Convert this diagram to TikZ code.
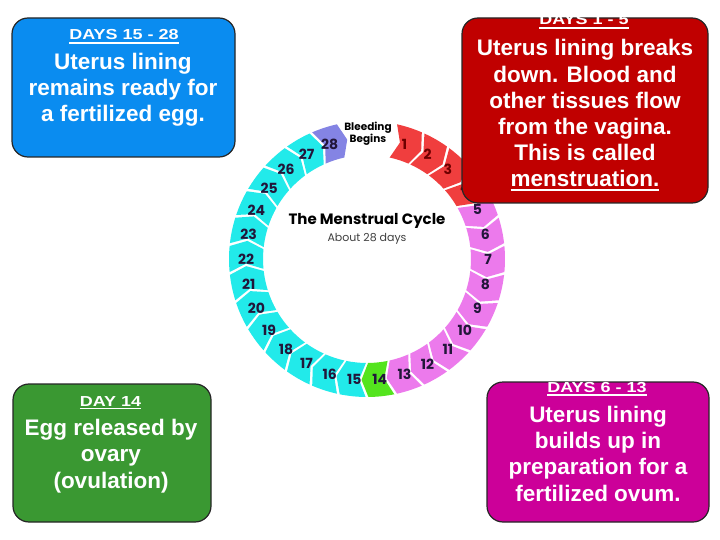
\documentclass[tikz,border=0pt]{standalone}
\usepackage{fontspec}
\usepackage{tikz}
\usetikzlibrary{positioning,calc}
\setmainfont{Liberation Sans}
\newfontfamily\headfont{Liberation Sans}[FakeStretch=1.24]
\newfontfamily\ringfont{Poppins}
\definecolor{boxblue}{RGB}{10,140,240}
\definecolor{boxred}{RGB}{192,0,0}
\definecolor{boxgreen}{RGB}{58,152,50}
\definecolor{boxmagenta}{RGB}{204,0,153}
\definecolor{segred}{RGB}{240,62,62}
\definecolor{segviolet}{RGB}{236,122,236}
\definecolor{seggreen}{RGB}{84,228,30}
\definecolor{segcyan}{RGB}{34,234,234}
\definecolor{seglav}{RGB}{132,132,228}
\definecolor{numdark}{RGB}{34,22,58}
\definecolor{numred}{RGB}{110,0,0}
\newcommand{\ulbox}[1]{\vtop{\hbox{#1}\kern1.8pt\hrule height1.6pt}}
\tikzset{
  phasebox/.style={draw=black!85, line width=1.2pt, rounded corners=16pt, inner sep=0pt},
  phasehead/.style={anchor=base, text=white, inner sep=0pt, font=\headfont\bfseries\fontsize{14.5}{17}\selectfont},
  phasetext/.style={anchor=base, text=white, inner sep=0pt, align=center, font=\bfseries\fontsize{22.5}{26.2}\selectfont},
  daynum/.style={inner sep=0pt, font=\ringfont\bfseries\fontsize{14}{16}\selectfont},
  cycletitle/.style={anchor=base, inner sep=0pt, font=\ringfont\bfseries\fontsize{15}{17}\selectfont},
  cyclesub/.style={anchor=base, inner sep=0pt, text=black!75, font=\ringfont\fontsize{11}{12}\selectfont},
  bleedtext/.style={anchor=base, inner sep=0pt, align=center, font=\ringfont\bfseries\fontsize{10.5}{10.5}\selectfont}
}
\begin{document}
\begin{tikzpicture}[x=1pt, y=-1pt]
  \fill[white] (0,0) rectangle (720,540);
  \useasboundingbox (0,0) rectangle (720,540);
  \begin{scope}[shift={(367,259)}]
    \foreach \d in {1,...,28}{
      \pgfmathsetmacro\a{-72+12*(\d-1)}
      \ifnum\d<5 \def\segcol{segred}\else\ifnum\d<14 \def\segcol{segviolet}\else\ifnum\d=14 \def\segcol{seggreen}\else\ifnum\d<28 \def\segcol{segcyan}\else\def\segcol{seglav}\fi\fi\fi\fi
      \ifnum\d<5 \def\numcol{numred}\else\def\numcol{numdark}\fi
      \fill[\segcol] (\a-5.4:138) arc[start angle=\a-5.4, end angle=\a+5.4, radius=138]
        -- (\a+8.6:121) -- (\a+5.4:104) arc[start angle=\a+5.4, end angle=\a-5.4, radius=104]
        -- (\a-2.2:121) -- cycle;
      \node[daynum, text=\numcol] (day\d) at (\a:121) {\d};
    }
    \node[cycletitle] (title) at (0,-34) {The Menstrual Cycle};
    \node[cyclesub] (about) at (0,-17.5) {About 28 days};
    \node[bleedtext] (bleed) at (1,-116) {Bleeding\\Begins};
  \end{scope}
  \node[phasebox, fill=boxblue, minimum width=223pt, minimum height=139pt] (bluebox) at (123.5,87.5) {};
  \node[phasehead] (bluehead) at (124,40) {\ulbox{DAYS 15 - 28}};
  \node[phasetext] (bluetext) at (123,122) {Uterus lining\\remains ready for\\a fertilized egg.};
  \node[phasebox, fill=boxred, minimum width=246pt, minimum height=185pt] (redbox) at (585,110.5) {};
  \node[phasehead] (redhead) at (584,25) {\ulbox{DAYS 1 - 5}};
  \node[phasetext] (redtext) at (585,187) {Uterus lining breaks\\down. Blood and\\other tissues flow\\from the vagina.\\This is called\\\ulbox{menstruation.}};
  \node[phasebox, fill=boxgreen, minimum width=198pt, minimum height=138pt] (greenbox) at (112,453) {};
  \node[phasehead] (greenhead) at (110.5,406) {\ulbox{DAY 14}};
  \node[phasetext] (greentext) at (111,488) {Egg released by\\ovary\\(ovulation)};
  \node[phasebox, fill=boxmagenta, minimum width=222pt, minimum height=140pt] (magbox) at (598,452) {};
  \node[phasehead] (maghead) at (597,392) {\ulbox{DAYS 6 - 13}};
  \node[phasetext] (magtext) at (598,501) {Uterus lining\\builds up in\\preparation for a\\fertilized ovum.};
\end{tikzpicture}
\end{document}
